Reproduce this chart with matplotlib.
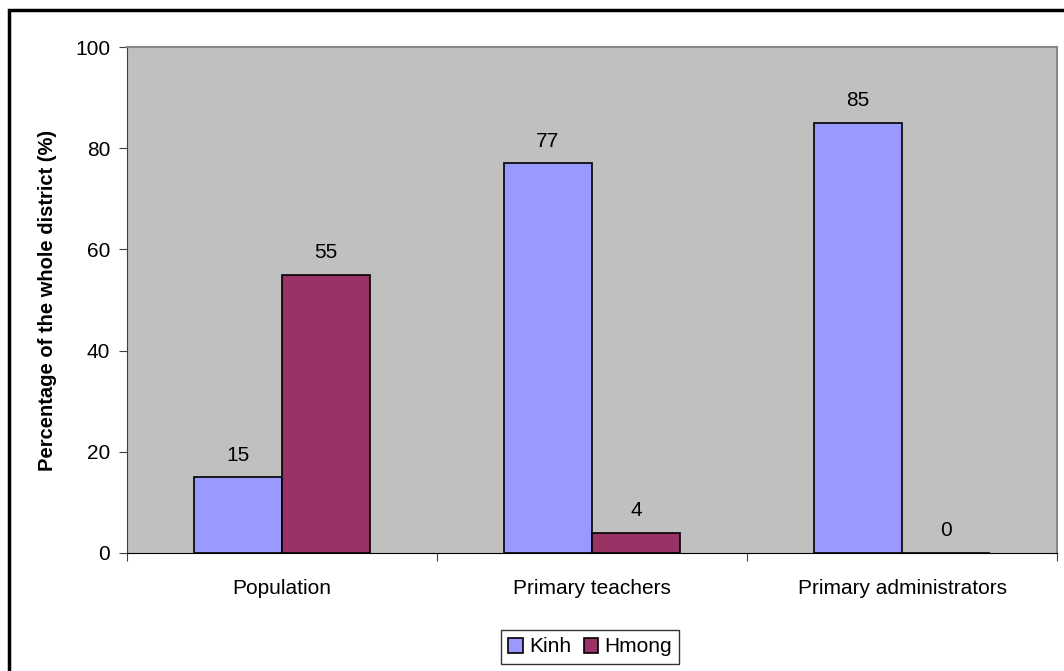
import matplotlib.pyplot as plt
import numpy as np
from matplotlib.patches import Rectangle

categories = ["Population", "Primary teachers", "Primary administrators"]
kinh = [15, 77, 85]
hmong = [55, 4, 0]
series_names = ["Kinh", "Hmong"]

plt.rcParams["font.family"] = ["Liberation Sans", "DejaVu Sans"]

W, H = 1064, 671
FS = 15
fig = plt.figure(figsize=(W / 100, H / 100), dpi=100)
ax = fig.add_axes([127 / W, 1 - 553 / H, (1057 - 127) / W, (553 - 47) / H])

x = np.arange(len(categories))
bw = 0.285
b1 = ax.bar(x - bw / 2, kinh, bw, color="#9999FF", edgecolor="black", linewidth=1.2, label=series_names[0])
b2 = ax.bar(x + bw / 2, hmong, bw, color="#993366", edgecolor="black", linewidth=1.2, label=series_names[1])

for bars in (b1, b2):
    for rect in bars:
        v = rect.get_height()
        ax.annotate(f"{v:g}", (rect.get_x() + rect.get_width() / 2, v),
                    xytext=(0, 9), textcoords="offset points",
                    ha="center", va="bottom", fontsize=FS)

ax.set_facecolor("#C0C0C0")
ax.set_xlim(-0.5, len(categories) - 0.5)
ax.set_ylim(0, 100)
ax.set_yticks(range(0, 101, 20))
ax.set_xticks(np.arange(-0.5, len(categories), 1.0))
ax.set_xticklabels([])
ax.set_xticks(x, minor=True)
ax.set_xticklabels(categories, minor=True)
ax.tick_params(axis="x", which="minor", length=0, pad=19, labelsize=FS)
ax.tick_params(axis="x", which="major", length=6, direction="out", color="#404040")
ax.tick_params(axis="y", length=6, direction="out", labelsize=FS, pad=6, color="#404040")

ax.spines["top"].set_color("#888888")
ax.spines["right"].set_color("#888888")
ax.spines["top"].set_linewidth(1.5)
ax.spines["right"].set_linewidth(1.5)
ax.spines["left"].set_color("#404040")
ax.spines["bottom"].set_color("black")

ax.set_ylabel("Percentage of the whole district (%)", fontsize=14.5, fontweight="bold", labelpad=13)

leg = fig.legend(handles=[b1, b2], labels=series_names, loc="center",
                 bbox_to_anchor=(590 / W, 1 - 647 / H), ncol=2, fontsize=FS,
                 frameon=True, fancybox=False, edgecolor="black",
                 handlelength=0.7, handleheight=0.7, handletextpad=0.3,
                 columnspacing=0.6, borderpad=0.35)
leg.get_frame().set_linewidth(1.0)

fig.patches.append(Rectangle((9 / W, -0.1), 1.2, 1 - 10 / H + 0.1,
                             transform=fig.transFigure, fill=False,
                             edgecolor="black", linewidth=2.5))

fig.savefig("out.png", dpi=100)
